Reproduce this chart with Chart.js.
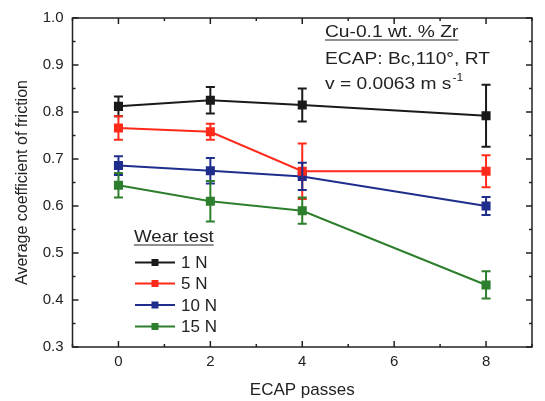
<!DOCTYPE html>
<html>
<head>
<meta charset="utf-8">
<script src="https://cdn.jsdelivr.net/npm/chart.js@4/dist/chart.umd.min.js"></script>
<style>
html,body{margin:0;padding:0;background:#fff;}
#wrap{width:545px;height:401px;}
</style>
</head>
<body>
<div id="wrap"><canvas id="c" width="545" height="401"></canvas></div>
<script>
const passes = [0, 2, 4, 8];
const xTicks = [0, 2, 4, 6, 8];
const seriesNames = ['1 N', '5 N', '10 N', '15 N'];
const cof1N  = [0.812, 0.825, 0.815, 0.792];
const err1N  = [0.021, 0.028, 0.035, 0.066];
const cof5N  = [0.766, 0.758, 0.674, 0.674];
const err5N  = [0.025, 0.017, 0.059, 0.034];
const cof10N = [0.686, 0.675, 0.663, 0.600];
const err10N = [0.020, 0.027, 0.029, 0.019];
const cof15N = [0.644, 0.610, 0.590, 0.432];
const err15N = [0.026, 0.043, 0.028, 0.029];
const colors = ['#1a1a1a', '#ff2a1a', '#1f2e8c', '#2d7f2d'];

const FONT = '"Liberation Sans", Arial, sans-serif';
const values = [cof1N, cof5N, cof10N, cof15N];
const errors = [err1N, err5N, err10N, err15N];

const datasets = values.map((vals, i) => ({
  label: seriesNames[i],
  data: passes.map((p, j) => ({x: p, y: vals[j]})),
  errs: errors[i],
  borderColor: colors[i],
  backgroundColor: colors[i],
  borderWidth: 2,
  pointStyle: 'rect',
  pointRadius: 5,
  pointHoverRadius: 5,
  tension: 0
}));

function stretchText(ctx, text, x, y, sx) {
  ctx.save();
  ctx.translate(x, y);
  ctx.scale(sx, 1);
  ctx.fillText(text, 0, 0);
  ctx.restore();
  return ctx.measureText(text).width * sx;
}

const framePlugin = {
  id: 'frame',
  afterDatasetsDraw(chart) {
    const ctx = chart.ctx;
    const a = chart.chartArea;
    const xs = chart.scales.x, ys = chart.scales.y;
    // error bars
    chart.data.datasets.forEach((ds) => {
      ctx.save();
      ctx.strokeStyle = ds.borderColor;
      ctx.lineWidth = 2;
      ds.data.forEach((pt, j) => {
        const e = ds.errs[j];
        const px = xs.getPixelForValue(pt.x);
        const yt = ys.getPixelForValue(pt.y + e);
        const yb = ys.getPixelForValue(pt.y - e);
        ctx.beginPath();
        ctx.moveTo(px, yt); ctx.lineTo(px, yb);
        ctx.moveTo(px - 4.5, yt); ctx.lineTo(px + 4.5, yt);
        ctx.moveTo(px - 4.5, yb); ctx.lineTo(px + 4.5, yb);
        ctx.stroke();
      });
      ctx.restore();
    });
    // frame
    ctx.save();
    ctx.strokeStyle = '#222';
    ctx.lineWidth = 1.5;
    ctx.strokeRect(a.left, a.top, a.right - a.left, a.bottom - a.top);
    ctx.beginPath();
    for (let v = -1; v <= 9; v++) {
      const px = xs.getPixelForValue(v);
      const len = (v % 2 === 0) ? 6 : 3;
      ctx.moveTo(px, a.bottom); ctx.lineTo(px, a.bottom - len);
      ctx.moveTo(px, a.top); ctx.lineTo(px, a.top + len);
    }
    for (let k = 0; k <= 14; k++) {
      const v = 0.3 + k * 0.05;
      const py = ys.getPixelForValue(v);
      const len = (k % 2 === 0) ? 6 : 3;
      ctx.moveTo(a.left, py); ctx.lineTo(a.left + len, py);
      ctx.moveTo(a.right, py); ctx.lineTo(a.right - len, py);
    }
    ctx.stroke();
    ctx.restore();

    // annotation text
    ctx.save();
    ctx.fillStyle = '#222';
    ctx.strokeStyle = '#222';
    ctx.textBaseline = 'alphabetic';
    ctx.textAlign = 'left';
    ctx.font = '16px ' + FONT;
    const tx = 325, sx = 1.2;
    const w1 = stretchText(ctx, 'Cu-0.1 wt. % Zr', tx, 37, sx);
    ctx.lineWidth = 1;
    ctx.beginPath(); ctx.moveTo(tx, 40); ctx.lineTo(tx + w1, 40); ctx.stroke();
    stretchText(ctx, 'ECAP: Bc,110\u00B0, RT', tx, 64, sx);
    const w3 = stretchText(ctx, 'v = 0.0063 m s', tx, 89, sx);
    ctx.font = '11px ' + FONT;
    stretchText(ctx, '-1', tx + w3 + 1, 81, 1.1);

    // legend
    ctx.font = '17px ' + FONT;
    const lw = stretchText(ctx, 'Wear test', 134, 241.5, 1.1);
    ctx.beginPath(); ctx.moveTo(134, 245); ctx.lineTo(134 + lw, 245); ctx.stroke();
    const rows = [262.5, 283.5, 305, 326.5];
    chart.data.datasets.forEach((ds, i) => {
      const y = rows[i];
      ctx.strokeStyle = ds.borderColor;
      ctx.fillStyle = ds.borderColor;
      ctx.lineWidth = 2;
      ctx.beginPath(); ctx.moveTo(135, y); ctx.lineTo(175, y); ctx.stroke();
      ctx.fillRect(155 - 3.5, y - 3.5, 7, 7);
      ctx.fillStyle = '#222';
      ctx.font = '17px ' + FONT;
      ctx.textBaseline = 'middle';
      ctx.fillText(ds.label, 181, y + 1);
    });
    ctx.restore();
  }
};

new Chart(document.getElementById('c'), {
  type: 'line',
  data: { datasets },
  options: {
    responsive: false,
    animation: false,
    devicePixelRatio: 1,
    layout: { padding: { top: 11, right: 13, left: 0, bottom: 0 } },
    plugins: { legend: { display: false }, tooltip: { enabled: false } },
    scales: {
      x: {
        type: 'linear',
        min: -1, max: 9,
        grid: { display: false, drawTicks: false },
        border: { display: false },
        afterBuildTicks(scale) { scale.ticks = xTicks.map(v => ({value: v})); },
        afterFit(scale) { scale.height = 54; },
        ticks: {
          color: '#222',
          padding: 6,
          font: { family: FONT, size: 15 },
          maxRotation: 0,
          callback: v => String(v)
        },
        title: {
          display: true,
          text: 'ECAP passes',
          color: '#222',
          font: { family: FONT, size: 17 },
          padding: { top: 6, bottom: 0 }
        }
      },
      y: {
        min: 0.3, max: 1.0,
        grid: { display: false, drawTicks: false },
        border: { display: false },
        afterFit(scale) { scale.width = 72.5; },
        ticks: {
          stepSize: 0.1,
          color: '#222',
          padding: 9,
          font: { family: FONT, size: 15 },
          callback: v => Number(v).toFixed(1)
        },
        title: {
          display: true,
          text: 'Average coefficient of friction',
          color: '#222',
          font: { family: FONT, size: 16 },
          padding: { top: 13, bottom: 4 }
        }
      }
    }
  },
  plugins: [framePlugin]
});
</script>
</body>
</html>
